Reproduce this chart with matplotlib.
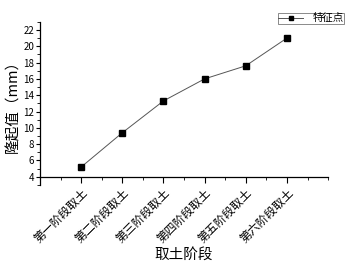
import matplotlib
matplotlib.use("Agg")
import matplotlib.pyplot as plt
from matplotlib.ticker import MultipleLocator

plt.rcParams['font.family'] = ['Noto Sans CJK SC', 'DejaVu Sans']

categories = ["第一阶段取土", "第二阶段取土", "第三阶段取土", "第四阶段取土", "第五阶段取土", "第六阶段取土"]
values = [5.2, 9.4, 13.3, 16.0, 17.6, 21.0]
series_name = "特征点"

fig = plt.figure(figsize=(3.45, 2.65), dpi=100)
ax = fig.add_axes([0.116, 0.302, 0.835, 0.616])
x = list(range(1, len(categories) + 1))
ax.plot(x, values, color='#555555', lw=0.7, marker='s', markersize=4,
        markerfacecolor='black', markeredgecolor='black', label=series_name)

ax.set_xlim(0, 7)
ax.set_ylim(3, 23)
ax.spines['top'].set_visible(False)
ax.spines['right'].set_visible(False)
ax.spines['bottom'].set_position(('data', 4))
for s in ('left', 'bottom'):
    ax.spines[s].set_linewidth(0.9)

ax.set_xticks(x)
ax.set_xticks([0.5 + i for i in range(7)] + [7], minor=True)
ax.set_xticklabels(categories, rotation=45, ha='right', rotation_mode='anchor', fontsize=8.5)
ax.yaxis.set_minor_locator(MultipleLocator(1))
ax.set_yticks(range(4, 23, 2))
ax.tick_params(axis='y', labelsize=7, direction='out', length=3, width=0.8, pad=1)
ax.tick_params(axis='x', direction='out', length=4, width=0.8, pad=3)
ax.tick_params(which='minor', length=2, width=0.6)

ax.set_ylabel("隆起值（mm）", fontsize=10.5, labelpad=2)
ax.set_xlabel("取土阶段", fontsize=10.5)
ax.xaxis.set_label_coords(0.5, -0.385)

leg = ax.legend(loc='upper right', bbox_to_anchor=(1.06, 1.06), fontsize=7.5,
                frameon=True, fancybox=False, edgecolor='#555555', handlelength=2.4,
                borderpad=0.05, handletextpad=0.9, borderaxespad=0.1, markerscale=0.7)
leg.get_frame().set_linewidth(0.6)

fig.savefig("out.png", dpi=100)
